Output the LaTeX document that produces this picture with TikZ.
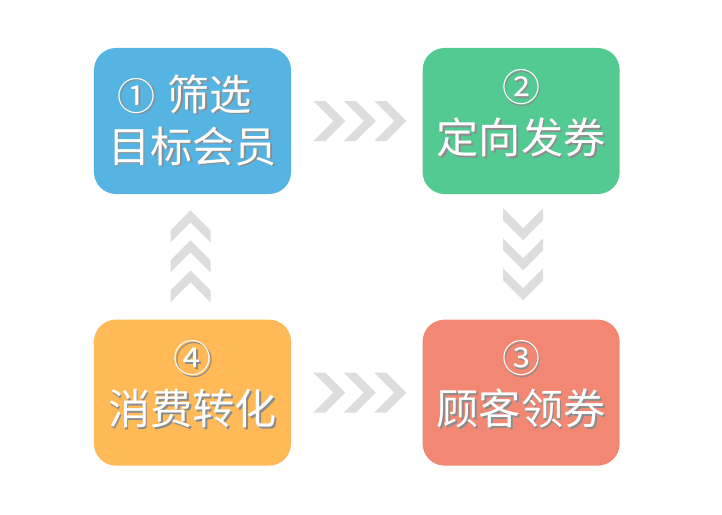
\documentclass[tikz,border=0pt]{standalone}
\usepackage{fontspec}
\newfontfamily\cjk{Noto Sans CJK SC}
\usetikzlibrary{positioning, calc}
\definecolor{bluebox}{RGB}{86, 180, 227}
\definecolor{greenbox}{RGB}{84, 202, 147}
\definecolor{redbox}{RGB}{242, 136, 115}
\definecolor{orangebox}{RGB}{255, 185, 86}
\definecolor{chevcolor}{RGB}{221, 221, 221}
% white text with a soft drop shadow
\newcommand{\shadowed}[1]{\makebox[0pt][l]{\hspace{1.3pt}\raisebox{-1.3pt}{\textcolor{black!45}{#1}}}#1}
\newcommand{\stepnum}[1]{{\fontsize{27}{30}\selectfont #1}}

\begin{document}
\begin{tikzpicture}[
    x=0.025cm, y=-0.025cm,
    node distance=3.125cm and 3.275cm,
    stepbox/.style={rounded corners=0.55cm, minimum width=4.925cm, minimum height=3.65cm, inner sep=0pt, text=white, align=center, font=\cjk\fontsize{30}{37}\selectfont},
    numbox/.style={stepbox, text depth=14pt},
    chevron/.pic={\fill[chevcolor] (0,-20) -- (12,-20) -- (32,0) -- (12,20) -- (0,20) -- (20,0) -- cycle;}
]
    \useasboundingbox (0,0) rectangle (722,514);

    % Step boxes
    \node[stepbox, fill=bluebox] (filter) at (192.5,121) {\shadowed{\stepnum{①}\hspace{8pt}筛选}\mbox{\hspace{11pt}}\\\shadowed{目标会员}};
    \node[numbox, fill=greenbox, right=of filter] (issue) {\shadowed{\stepnum{②}}\\\shadowed{定向发券}};
    \node[numbox, fill=orangebox, below=of filter] (convert) {\shadowed{\stepnum{④}}\\\shadowed{消费转化}};
    \node[numbox, fill=redbox, below=of issue] (claim) {\shadowed{\stepnum{③}}\\\shadowed{顾客领券}};

    % Chevron arrows
    \foreach \k in {0,1,2} {
        \pic at ($(filter.east)+({22+30.5*\k},0)$) {chevron};
        \pic at ($(convert.east)+({22+30.5*\k},0)$) {chevron};
        \pic[rotate=-90] at ($(issue.south)+(2,{14+30*\k})$) {chevron};
        \pic[rotate=90] at ($(convert.north)+(-2,{-17-30*\k})$) {chevron};
    }

\end{tikzpicture}
\end{document}
